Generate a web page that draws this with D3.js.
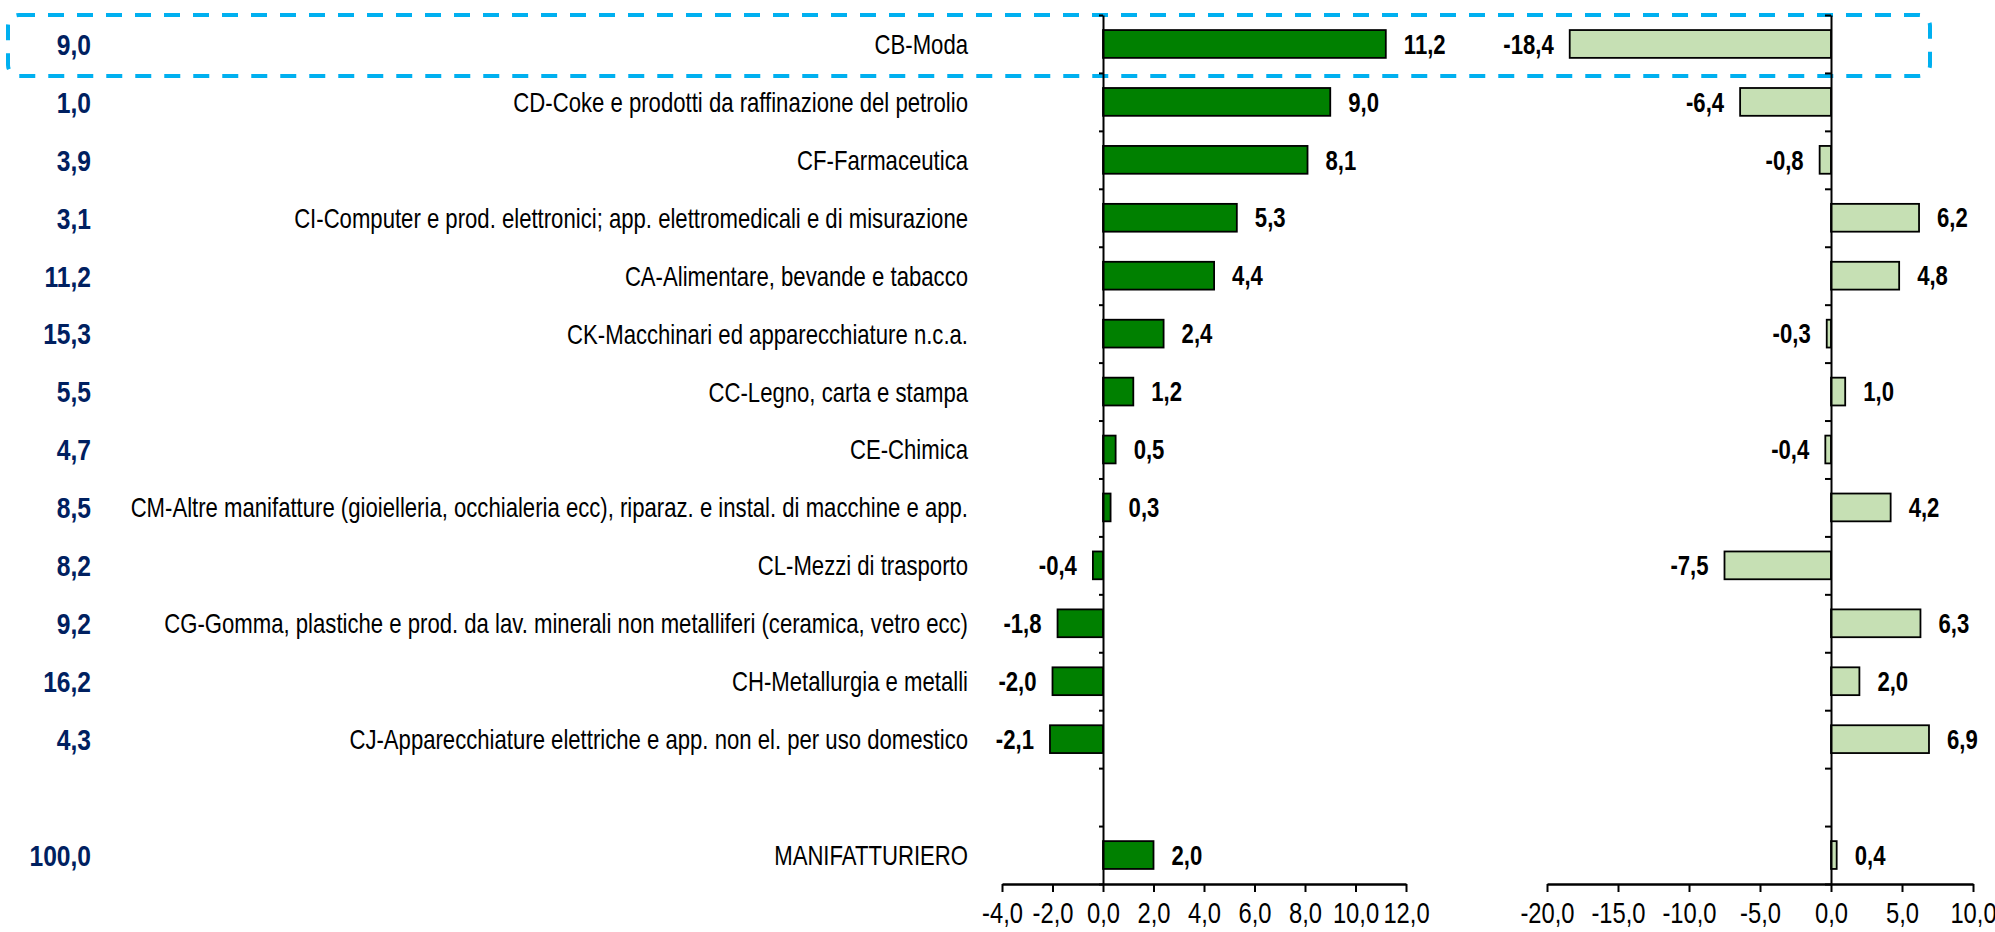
<!DOCTYPE html>
<html>
<head>
<meta charset="utf-8">
<script src="https://cdn.jsdelivr.net/npm/d3@7"></script>
<style>
  body { margin: 0; background: #fff; }
  svg text { font-family: "Liberation Sans", Arial, sans-serif; }
</style>
</head>
<body>
<div id="chart"></div>
<script>
// categories, top to bottom ("" is the empty spacer row)
const categories = [
	"CB-Moda",
	"CD-Coke e prodotti da raffinazione del petrolio",
	"CF-Farmaceutica",
	"CI-Computer e prod. elettronici; app. elettromedicali e di misurazione",
	"CA-Alimentare, bevande e tabacco",
	"CK-Macchinari ed apparecchiature n.c.a.",
	"CC-Legno, carta e stampa",
	"CE-Chimica",
	"CM-Altre manifatture (gioielleria, occhialeria ecc), riparaz. e instal. di macchine e app.",
	"CL-Mezzi di trasporto",
	"CG-Gomma, plastiche e prod. da lav. minerali non metalliferi (ceramica, vetro ecc)",
	"CH-Metallurgia e metalli",
	"CJ-Apparecchiature elettriche e app. non el. per uso domestico",
	"",
	"MANIFATTURIERO"
];
const weights      = [9.0, 1.0, 3.9, 3.1, 11.2, 15.3, 5.5, 4.7, 8.5, 8.2, 9.2, 16.2, 4.3, null, 100.0];
const leftValues   = [11.2, 9.0, 8.1, 5.3, 4.4, 2.4, 1.2, 0.5, 0.3, -0.4, -1.8, -2.0, -2.1, null, 2.0];
const rightValues  = [-18.4, -6.4, -0.8, 6.2, 4.8, -0.3, 1.0, -0.4, 4.2, -7.5, 6.3, 2.0, 6.9, null, 0.4];
const leftTicks    = [-4, -2, 0, 2, 4, 6, 8, 10, 12];
const rightTicks   = [-20, -15, -10, -5, 0, 5, 10];
const highlighted  = "CB-Moda";

const width = 1995, height = 932,
	plotTop = 15, plotBottom = 884,
	narrow = 0.82, // no Arial Narrow here, so squeeze Liberation Sans
	darkGreen = "#008000", lightGreen = "#c6e0b4", navy = "#002060";

const it = d3.formatLocale({decimal: ",", thousands: ".", grouping: [3], currency: ["", "€"], minus: "-"});
const fmt = it.format(".1f");

const rows = categories.map((c, i) => ({
	name: c, idx: i, weight: weights[i], left: leftValues[i], right: rightValues[i]
}));

const y = d3.scaleBand()
	.domain(d3.range(categories.length))
	.range([plotTop, plotBottom])
	.paddingInner(0.52)
	.paddingOuter(0.26);

const yMid = i => y(i) + y.bandwidth() / 2;

// slot boundaries, used for the little ticks on the zero lines
const slot = d3.scaleLinear().domain([0, categories.length]).range([plotTop, plotBottom]);

const xLeft = d3.scaleLinear().domain([-4, 12]).range([1002, 1406]);
const xRight = d3.scaleLinear().domain([-20, 10]).range([1547, 1973]);

const svg = d3.select("#chart")
	.append("svg")
	.attr("width", width)
	.attr("height", height);

// highlight box round the first row
const hi = categories.indexOf(highlighted);
svg.append("rect")
	.attr("x", 8)
	.attr("y", slot(hi))
	.attr("width", 1930 - 8)
	.attr("height", slot(hi + 1) - slot(hi) + 3)
	.attr("rx", 11)
	.style("fill", "none")
	.style("stroke", "#00b0f0")
	.style("stroke-width", 4)
	.style("stroke-dasharray", "16,13");

// weights column
svg.append("g").selectAll("text")
	.data(rows.filter(d => d.weight != null))
	.enter().append("text")
	.attr("transform", d => `translate(91,${yMid(d.idx)}) scale(${narrow},1)`)
	.attr("dy", "0.36em")
	.attr("text-anchor", "end")
	.style("font-size", "30px")
	.style("font-weight", "bold")
	.style("fill", navy)
	.text(d => fmt(d.weight));

// category names
svg.append("g").selectAll("text")
	.data(rows.filter(d => d.name))
	.enter().append("text")
	.attr("transform", d => `translate(968,${yMid(d.idx)}) scale(${narrow},1)`)
	.attr("dy", "0.37em")
	.attr("text-anchor", "end")
	.style("font-size", "27px")
	.style("fill", "#000")
	.text(d => d.name);

function panel(x, key, fill, ticks, tickLen) {
	const g = svg.append("g");
	const data = rows.filter(d => d[key] != null);

	g.selectAll("rect")
		.data(data)
		.enter().append("rect")
		.attr("x", d => x(Math.min(0, d[key])))
		.attr("width", d => Math.abs(x(d[key]) - x(0)))
		.attr("y", d => y(d.idx))
		.attr("height", y.bandwidth())
		.style("fill", fill)
		.style("stroke", "#000")
		.style("stroke-width", 1.8);

	g.selectAll("text.val")
		.data(data)
		.enter().append("text")
		.classed("val", true)
		.attr("transform", d => {
			const tx = d[key] >= 0 ? x(d[key]) + 18 : x(d[key]) - 16;
			return `translate(${tx},${yMid(d.idx)}) scale(${narrow},1)`;
		})
		.attr("dy", "0.36em")
		.attr("text-anchor", d => d[key] >= 0 ? "start" : "end")
		.style("font-size", "27px")
		.style("font-weight", "bold")
		.text(d => fmt(d[key]));

	// zero line with slot ticks
	const zero = g.append("g")
		.attr("transform", `translate(${x(0)},0)`)
		.call(d3.axisLeft(slot).ticks(categories.length).tickSize(tickLen).tickSizeOuter(0).tickFormat(""));
	zero.select(".domain").style("stroke", "#000").style("stroke-width", 2);
	zero.selectAll(".tick line").style("stroke", "#000").style("stroke-width", 2);

	// value axis at the bottom
	const ax = g.append("g")
		.attr("transform", `translate(0,${plotBottom})`)
		.call(d3.axisBottom(x).tickValues(ticks).tickSize(8).tickSizeOuter(0).tickPadding(10).tickFormat(fmt));
	ax.select(".domain").style("stroke", "#000").style("stroke-width", 2.5);
	ax.selectAll(".tick line").style("stroke", "#000").style("stroke-width", 2);
	ax.selectAll(".tick text")
		.attr("transform", `scale(${narrow},1)`)
		.style("font-size", "29px")
		.style("font-family", "\"Liberation Sans\", Arial, sans-serif")
		.style("fill", "#000");
}

panel(xLeft, "left", darkGreen, leftTicks, 4);
panel(xRight, "right", lightGreen, rightTicks, 6);
</script>
</body>
</html>
